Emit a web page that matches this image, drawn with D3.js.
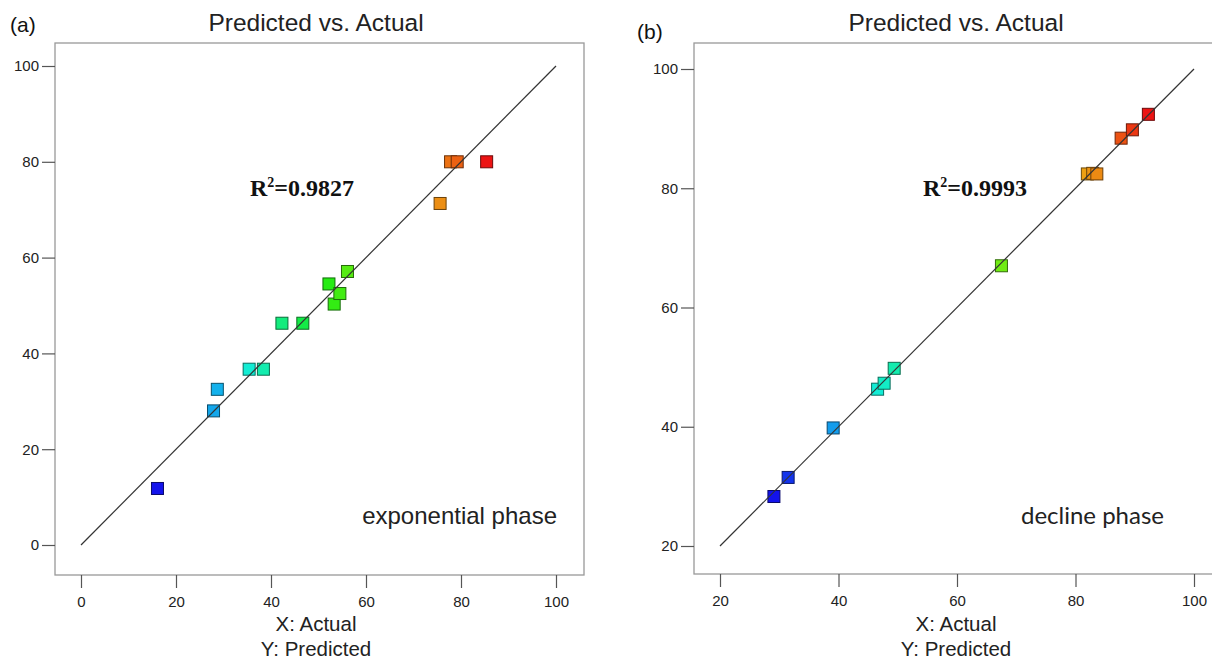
<!DOCTYPE html>
<html>
<head>
<meta charset="utf-8">
<script src="https://cdn.jsdelivr.net/npm/d3@7"></script>
<style>
  body { margin: 0; background: #fff; }
  svg { display: block; font-family: "Liberation Sans", Arial, sans-serif; }
</style>
</head>
<body>
<div id="chart"></div>
<script>
// panel (a): exponential phase
const actualA    = [16.1, 27.9, 28.7, 35.4, 38.4, 42.3, 46.7, 52.2, 53.3, 54.5, 56.1, 75.6, 77.8, 79.2, 85.4];
const predictedA = [11.8, 28.0, 32.5, 36.7, 36.7, 46.3, 46.3, 54.5, 50.3, 52.5, 57.1, 71.3, 80.0, 80.0, 80.0];
const ticksA = [0, 20, 40, 60, 80, 100];

// panel (b): decline phase
const actualB    = [29.1, 31.5, 39.1, 46.6, 47.7, 49.4, 67.5, 82.0, 82.9, 83.6, 87.7, 89.6, 92.3];
const predictedB = [28.3, 31.5, 39.8, 46.3, 47.3, 49.8, 67.0, 82.4, 82.5, 82.4, 88.4, 89.8, 92.4];
const ticksB = [20, 40, 60, 80, 100];

const panels = [
  { tag: '(a)', r2: '0.9827', note: 'exponential phase', noteFont: '"Liberation Sans", Arial, sans-serif',
    actual: actualA, predicted: predictedA, ticks: ticksA,
    frame: { x0: 55, y0: 43, x1: 584, y1: 575 },
    xRange: [81, 556], yRange: [545, 66], center: 316,
    tagPos: [10, 32], r2Pos: [250, 196], notePos: [557, 524] },
  { tag: '(b)', r2: '0.9993', note: 'decline phase', noteFont: 'Lato, "Open Sans", sans-serif',
    actual: actualB, predicted: predictedB, ticks: ticksB,
    frame: { x0: 694, y0: 43, x1: 1222, y1: 574 },
    xRange: [720, 1194], yRange: [546, 69], center: 956,
    tagPos: [637, 39], r2Pos: [923, 196], notePos: [1164, 524] }
];

const svg = d3.select('#chart').append('svg')
  .attr('width', 1212)
  .attr('height', 659);

panels.forEach(p => {
  const lo = d3.min(p.ticks), hi = d3.max(p.ticks);
  const x = d3.scaleLinear().domain([lo, hi]).range(p.xRange);
  const y = d3.scaleLinear().domain([lo, hi]).range(p.yRange);
  // Design-Expert style colouring: blue (low actual) -> red (high actual)
  const hue = d3.scaleLinear().domain(d3.extent(p.actual)).range([240, 0]);
  const fill = v => d3.hsl(hue(v), 0.85, 0.5).formatHex();

  const g = svg.append('g');

  g.append('rect')
    .attr('x', p.frame.x0).attr('y', p.frame.y0)
    .attr('width', p.frame.x1 - p.frame.x0)
    .attr('height', p.frame.y1 - p.frame.y0)
    .attr('fill', 'none')
    .attr('stroke', '#999')
    .attr('stroke-width', 1.3);

  // axes
  const xAxis = g.append('g')
    .attr('transform', `translate(0,${p.frame.y1})`)
    .call(d3.axisBottom(x).tickValues(p.ticks).tickSize(13).tickPadding(8));
  const yAxis = g.append('g')
    .attr('transform', `translate(${p.frame.x0},0)`)
    .call(d3.axisLeft(y).tickValues(p.ticks).tickSize(13).tickPadding(3));
  [xAxis, yAxis].forEach(a => {
    a.select('.domain').remove();
    a.selectAll('line').attr('stroke', '#555').attr('stroke-width', 1.2);
    a.selectAll('text')
      .attr('fill', '#222')
      .style('font-size', '15px')
      .style('font-family', '"Liberation Sans", Arial, sans-serif');
  });

  // points
  g.selectAll('rect.pt')
    .data(p.actual.map((a, i) => ({ a, p: p.predicted[i] })))
    .enter()
    .append('rect')
    .attr('class', 'pt')
    .attr('x', d => x(d.a) - 6)
    .attr('y', d => y(d.p) - 6)
    .attr('width', 12)
    .attr('height', 12)
    .attr('fill', d => fill(d.a))
    .attr('stroke', d => d3.color(fill(d.a)).darker(2.2))
    .attr('stroke-width', 1);

  // 1:1 line
  g.append('line')
    .attr('x1', x(lo)).attr('y1', y(lo))
    .attr('x2', x(hi)).attr('y2', y(hi))
    .attr('stroke', '#333')
    .attr('stroke-width', 1.2);

  // texts
  g.append('text')
    .attr('x', p.tagPos[0]).attr('y', p.tagPos[1])
    .attr('fill', '#111')
    .style('font-size', '21px')
    .text(p.tag);

  g.append('text')
    .attr('x', p.center).attr('y', 31)
    .attr('text-anchor', 'middle')
    .attr('fill', '#222')
    .style('font-size', '24.5px')
    .text('Predicted vs. Actual');

  g.append('text')
    .attr('x', p.center).attr('y', 631)
    .attr('text-anchor', 'middle')
    .attr('fill', '#222')
    .style('font-size', '20.5px')
    .text('X: Actual');
  g.append('text')
    .attr('x', p.center).attr('y', 656)
    .attr('text-anchor', 'middle')
    .attr('fill', '#222')
    .style('font-size', '20.5px')
    .text('Y: Predicted');

  const r2 = g.append('text')
    .attr('x', p.r2Pos[0]).attr('y', p.r2Pos[1])
    .attr('fill', '#111')
    .style('font-family', '"Liberation Serif", "Times New Roman", serif')
    .style('font-weight', 'bold')
    .style('font-size', '24px');
  r2.append('tspan').text('R');
  r2.append('tspan').attr('dy', -9).style('font-size', '14px').text('2');
  r2.append('tspan').attr('dy', 9).text('=' + p.r2);

  g.append('text')
    .attr('x', p.notePos[0]).attr('y', p.notePos[1])
    .attr('text-anchor', 'end')
    .attr('fill', '#222')
    .style('font-family', p.noteFont)
    .style('font-size', '24px')
    .text(p.note);
});
</script>
</body>
</html>
